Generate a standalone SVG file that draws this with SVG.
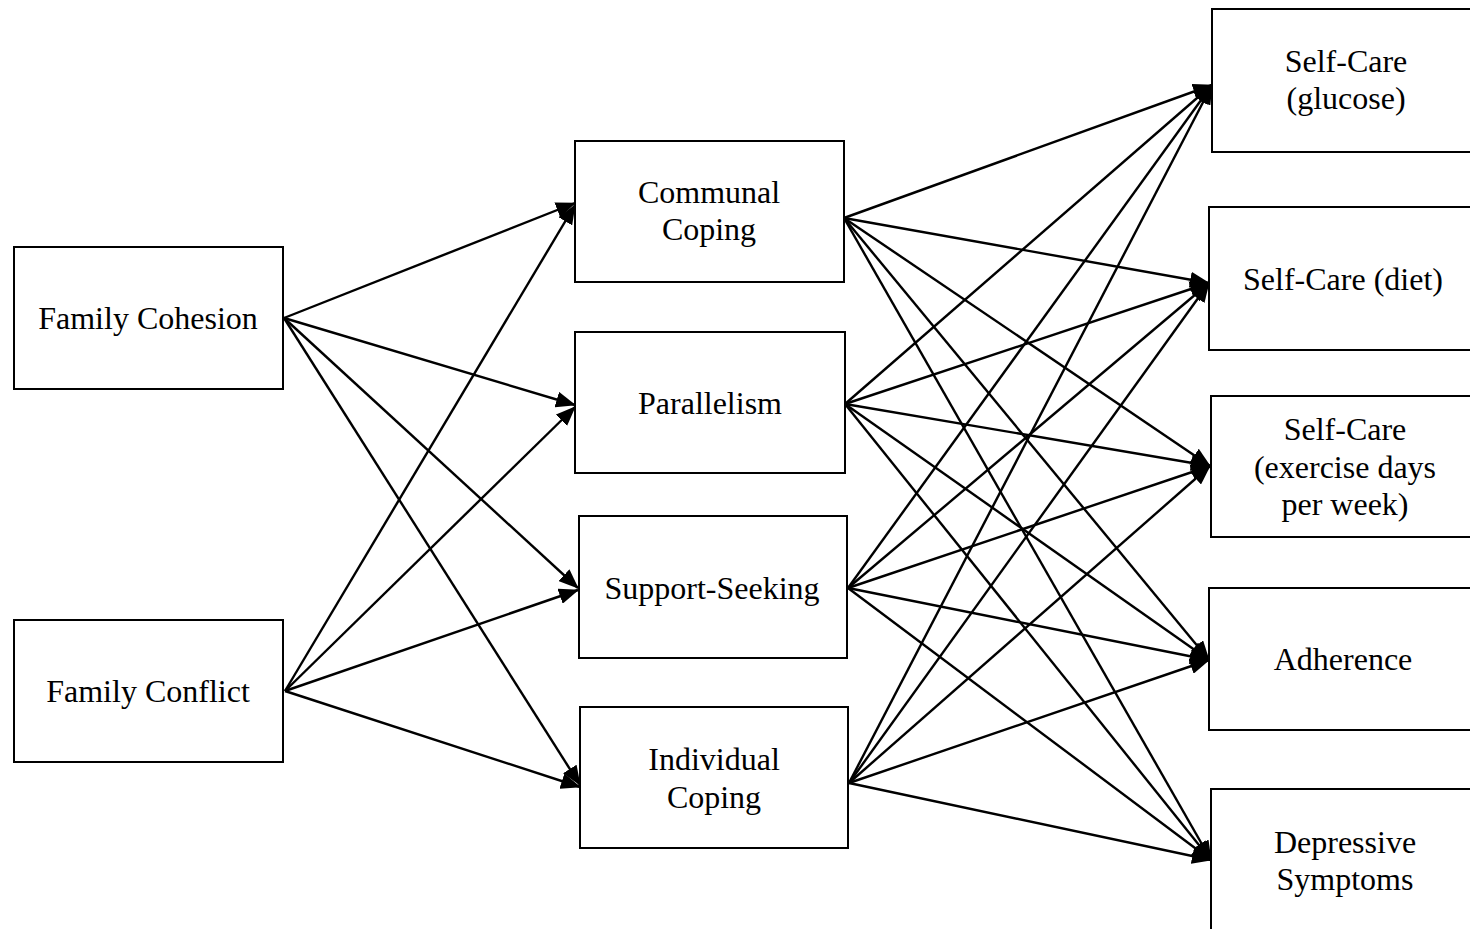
<svg xmlns="http://www.w3.org/2000/svg" width="1470" height="929" viewBox="0 0 1470 929">
  <style>
    .box { fill: #fff; stroke: #000; stroke-width: 2; }
    .lbl { font-family: "Liberation Serif", "Times New Roman", serif; font-size: 32px; fill: #000; text-anchor: middle; }
    .edge { stroke: #000; stroke-width: 2.4; fill: none; marker-end: url(#arrow); }
  </style>
  <defs>
    <marker id="arrow" markerUnits="userSpaceOnUse" markerWidth="20" markerHeight="16" viewBox="0 0 20 16" refX="19" refY="8" orient="auto">
      <path d="M0,0 L20,8 L0,16 Z" fill="#000"/>
    </marker>
  </defs>
  <rect width="1470" height="929" fill="#fff"/>

  <!-- connectors -->
  <g id="connectors">
    <!-- family variables to coping -->
    <line class="edge" x1="284" y1="318" x2="575" y2="203"/>
    <line class="edge" x1="284" y1="318" x2="575" y2="405"/>
    <line class="edge" x1="284" y1="318" x2="578" y2="588"/>
    <line class="edge" x1="284" y1="318" x2="580" y2="785"/>
    <line class="edge" x1="285" y1="691" x2="575" y2="205"/>
    <line class="edge" x1="285" y1="691" x2="575" y2="407"/>
    <line class="edge" x1="285" y1="691" x2="578" y2="590"/>
    <line class="edge" x1="285" y1="691" x2="580" y2="787"/>
    <!-- communal coping to outcomes -->
    <line class="edge" x1="844" y1="218" x2="1212" y2="85"/>
    <line class="edge" x1="844" y1="218" x2="1209" y2="283"/>
    <line class="edge" x1="844" y1="218" x2="1210" y2="466"/>
    <line class="edge" x1="844" y1="218" x2="1209" y2="660"/>
    <line class="edge" x1="844" y1="218" x2="1211" y2="860"/>
    <!-- parallelism to outcomes -->
    <line class="edge" x1="845" y1="404" x2="1212" y2="85"/>
    <line class="edge" x1="845" y1="404" x2="1209" y2="283"/>
    <line class="edge" x1="845" y1="404" x2="1210" y2="466"/>
    <line class="edge" x1="845" y1="404" x2="1209" y2="660"/>
    <line class="edge" x1="845" y1="404" x2="1211" y2="860"/>
    <!-- support-seeking to outcomes -->
    <line class="edge" x1="848" y1="588" x2="1212" y2="85"/>
    <line class="edge" x1="848" y1="588" x2="1209" y2="283"/>
    <line class="edge" x1="848" y1="588" x2="1210" y2="466"/>
    <line class="edge" x1="848" y1="588" x2="1209" y2="660"/>
    <line class="edge" x1="848" y1="588" x2="1211" y2="860"/>
    <!-- individual coping to outcomes -->
    <line class="edge" x1="849" y1="783" x2="1212" y2="85"/>
    <line class="edge" x1="849" y1="783" x2="1209" y2="283"/>
    <line class="edge" x1="849" y1="783" x2="1210" y2="466"/>
    <line class="edge" x1="849" y1="783" x2="1209" y2="660"/>
    <line class="edge" x1="849" y1="783" x2="1211" y2="860"/>
  </g>

  <!-- predictors -->
  <g id="family-cohesion">
    <rect class="box" x="14" y="247" width="269" height="142"/>
    <text class="lbl" x="148" y="329">Family Cohesion</text>
  </g>
  <g id="family-conflict">
    <rect class="box" x="14" y="620" width="269" height="142"/>
    <text class="lbl" x="148" y="702">Family Conflict</text>
  </g>

  <!-- coping mediators -->
  <g id="communal-coping">
    <rect class="box" x="575" y="141" width="269" height="141"/>
    <text class="lbl" x="709" y="203">Communal</text>
    <text class="lbl" x="709" y="240">Coping</text>
  </g>
  <g id="parallelism">
    <rect class="box" x="575" y="332" width="270" height="141"/>
    <text class="lbl" x="710" y="414">Parallelism</text>
  </g>
  <g id="support-seeking">
    <rect class="box" x="579" y="516" width="268" height="142"/>
    <text class="lbl" x="712" y="599">Support-Seeking</text>
  </g>
  <g id="individual-coping">
    <rect class="box" x="580" y="707" width="268" height="141"/>
    <text class="lbl" x="714" y="770">Individual</text>
    <text class="lbl" x="714" y="808">Coping</text>
  </g>

  <!-- outcomes -->
  <g id="self-care-glucose">
    <rect class="box" x="1212" y="9" width="270" height="143"/>
    <text class="lbl" x="1346" y="72">Self-Care</text>
    <text class="lbl" x="1346" y="109">(glucose)</text>
  </g>
  <g id="self-care-diet">
    <rect class="box" x="1209" y="207" width="273" height="143"/>
    <text class="lbl" x="1343" y="290">Self-Care (diet)</text>
  </g>
  <g id="self-care-exercise">
    <rect class="box" x="1211" y="396" width="271" height="141"/>
    <text class="lbl" x="1345" y="440">Self-Care</text>
    <text class="lbl" x="1345" y="478">(exercise days</text>
    <text class="lbl" x="1345" y="515">per week)</text>
  </g>
  <g id="adherence">
    <rect class="box" x="1209" y="588" width="273" height="142"/>
    <text class="lbl" x="1343" y="670">Adherence</text>
  </g>
  <g id="depressive-symptoms">
    <rect class="box" x="1211" y="789" width="271" height="150"/>
    <text class="lbl" x="1345" y="853">Depressive</text>
    <text class="lbl" x="1345" y="890">Symptoms</text>
  </g>
</svg>
